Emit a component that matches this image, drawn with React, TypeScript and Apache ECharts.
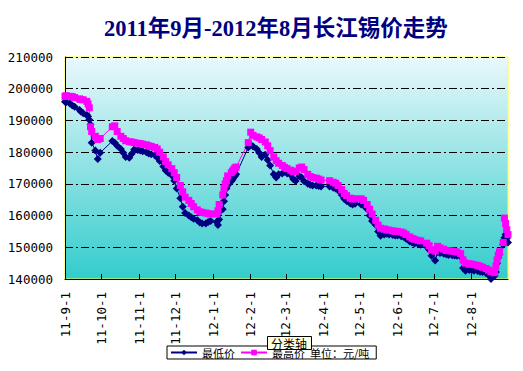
import React, { useEffect, useRef } from "react";
import * as echarts from "echarts";

const titleText = "2011年9月-2012年8月长江锡价走势";
const Y_MIN = 140000;
const Y_MAX = 210000;
const Y_STEP = 10000;
const lowName = "最低价";
const highName = "最高价";
const unitText = "单位：元/吨";
const axisTipText = "分类轴";

// trading dates (yy-m-d)
const tradeDates = [
  "11-9-1", "11-9-2", "11-9-5", "11-9-7", "11-9-9", "11-9-13", "11-9-14", "11-9-16", "11-9-19", "11-9-20", "11-9-21", "11-9-22", "11-9-23", "11-9-26", "11-9-28", "11-9-30",
  "11-10-10", "11-10-12", "11-10-14", "11-10-17", "11-10-19", "11-10-21", "11-10-24", "11-10-26", "11-10-28", "11-10-31",
  "11-11-2", "11-11-4", "11-11-7", "11-11-9", "11-11-11", "11-11-14", "11-11-16", "11-11-18", "11-11-21", "11-11-23", "11-11-25", "11-11-28", "11-11-30",
  "11-12-2", "11-12-5", "11-12-7", "11-12-9", "11-12-12", "11-12-14", "11-12-16", "11-12-19", "11-12-21", "11-12-23", "11-12-26", "11-12-28", "11-12-30",
  "12-1-4", "12-1-5", "12-1-6", "12-1-9", "12-1-10", "12-1-11", "12-1-12", "12-1-13", "12-1-16", "12-1-17", "12-1-18", "12-1-19", "12-1-20", "12-1-30",
  "12-2-1", "12-2-3", "12-2-6", "12-2-8", "12-2-10", "12-2-13", "12-2-15", "12-2-17", "12-2-20", "12-2-22", "12-2-24", "12-2-27", "12-2-29",
  "12-3-2", "12-3-5", "12-3-7", "12-3-9", "12-3-12", "12-3-14", "12-3-16", "12-3-19", "12-3-21", "12-3-23", "12-3-26", "12-3-28", "12-3-30",
  "12-4-6", "12-4-9", "12-4-11", "12-4-13", "12-4-16", "12-4-18", "12-4-20", "12-4-23", "12-4-25", "12-4-27",
  "12-5-2", "12-5-4", "12-5-7", "12-5-9", "12-5-11", "12-5-14", "12-5-16", "12-5-18", "12-5-21", "12-5-23", "12-5-25", "12-5-28", "12-5-30",
  "12-6-1", "12-6-4", "12-6-6", "12-6-8", "12-6-11", "12-6-13", "12-6-15", "12-6-18", "12-6-20", "12-6-25", "12-6-27", "12-6-29",
  "12-7-2", "12-7-4", "12-7-6", "12-7-9", "12-7-11", "12-7-13", "12-7-16", "12-7-18", "12-7-20", "12-7-23", "12-7-25", "12-7-27", "12-7-30",
  "12-8-1", "12-8-3", "12-8-6", "12-8-8", "12-8-10", "12-8-13", "12-8-15", "12-8-17", "12-8-20", "12-8-21", "12-8-22", "12-8-23", "12-8-24", "12-8-27", "12-8-28", "12-8-29", "12-8-30", "12-8-31",
];

const highPrices = [
  197600, 197800, 197600, 197500, 197200, 196800, 196600, 196500, 196000, 195200, 194000, 188000, 186500, 185000, 184000, 184300,
  188000, 188300, 186500, 185000, 184300, 183600, 183300, 183200, 183000, 182800,
  182700, 182500, 182300, 182000, 181800, 181500, 181000, 180000, 178500, 177000, 176000, 174800, 173500,
  172000, 169500, 167500, 165800, 164800, 163800, 162800, 161800, 161200, 161000, 160800, 160600, 160500,
  160500, 161500, 163500, 166500, 168500, 170000, 171000, 172500, 173500, 174000, 174500, 175000, 175300, 183000,
  186300, 185300, 184800, 184500, 184000, 183200, 182000, 180500, 178500, 177300, 176500, 175800, 175200,
  174800, 174300, 173800, 174000, 175000, 175300, 174500, 173000, 172300, 172000, 171800, 171500, 171200,
  171000, 170500, 170200, 169500, 168200, 167000, 166300, 165500, 165200, 165300,
  165300, 164800, 163500, 162000, 160500, 158500, 157000, 156000, 155800, 155500, 155400, 155200, 155000,
  155000, 154800, 154500, 154000, 153300, 152800, 152500, 152200, 152000, 151300, 150500, 149200,
  148800, 150300, 149800, 149400, 149000, 148900, 148800, 148700, 148500, 148000, 146000, 145000, 144800,
  144700, 144500, 144300, 144000, 143700, 143300, 142800, 142300, 142000, 144000, 146000, 147500, 148600, 151500, 159200, 157500, 155500, 154000,
];

const lowPrices = [
  195900, 195700, 195300, 194700, 194300, 193300, 192800, 192300, 191700, 191200, 190200, 188700, 183000, 180500, 177800, 179800,
  183500, 183000, 182000, 181000, 179800, 178500, 178200, 179500, 180800, 180700,
  180500, 180300, 180000, 179600, 179300, 179000, 178300, 177200, 175500, 174200, 173500, 172600, 171000,
  168500, 165500, 162800, 160800, 160000, 159500, 159000, 158500, 157800, 157500, 157500, 158000, 158300,
  158000, 157000, 158800, 162000, 164500, 166500, 168500, 169500, 170800, 171300, 172000, 172500, 173000, 181500,
  182300, 181800, 181000, 179800, 178500, 179200, 177500, 175800, 173000, 172000, 173000, 173300, 173800,
  173300, 172800, 171500, 170900, 172400, 172000, 170800, 170000, 169700, 169500, 169500, 169300, 169200,
  169200, 168800, 168500, 168000, 166500, 165300, 164600, 163800, 163500, 163700,
  163500, 163200, 162000, 160000, 158300, 157000, 155000, 153600, 154000, 154300, 154000, 153900, 153700,
  153700, 153500, 153300, 152700, 151800, 151500, 151200, 151000, 150800, 150200, 149200, 147300,
  145800, 148500, 148200, 148000, 147800, 147600, 147500, 147400, 147300, 147000, 143500, 142600, 142800,
  142800, 142600, 142500, 142300, 142200, 141800, 141300, 140000, 141000, 142200, 145000, 146800, 147800, 150800, 153000, 154000, 152800, 151500,
];

function buildCalendar(): string[] {
  const out: string[] = [];
  const d = new Date(Date.UTC(2011, 8, 1));
  const end = Date.UTC(2012, 7, 31);
  while (d.getTime() <= end) {
    out.push(
      `${String(d.getUTCFullYear()).slice(2)}-${d.getUTCMonth() + 1}-${d.getUTCDate()}`
    );
    d.setUTCDate(d.getUTCDate() + 1);
  }
  return out;
}

function alignToCalendar(calendar: string[], dates: string[], values: number[]) {
  const map = new Map<string, number>();
  dates.forEach((dt, i) => map.set(dt, values[i]));
  return calendar.map((c) => (map.has(c) ? map.get(c)! : null));
}

const isMonthStart = (_i: number, value: string) => value.split("-")[2] === "1";

export default function App() {
  const ref = useRef<HTMLDivElement>(null);

  useEffect(() => {
    if (!ref.current) return;
    const chart = echarts.init(ref.current, null, { renderer: "svg" });
    const calendar = buildCalendar();
    const lowData = alignToCalendar(calendar, tradeDates, lowPrices);
    const highData = alignToCalendar(calendar, tradeDates, highPrices);
    const monoFont = "'DejaVu Sans Mono', monospace";

    chart.setOption({
      animation: false,
      backgroundColor: "#ffffff",
      title: {
        text: titleText,
        left: 99,
        top: 12,
        textStyle: {
          fontSize: 22.5,
          fontWeight: "bold",
          color: "#000080",
          fontFamily: "'Liberation Serif', 'Noto Sans CJK SC', serif",
        },
      },
      grid: {
        left: 65,
        right: 15,
        top: 57,
        bottom: 92,
        show: true,
        borderColor: "#ffff33",
        borderWidth: 1,
        backgroundColor: new echarts.graphic.LinearGradient(0, 0, 0, 1, [
          { offset: 0, color: "#eaf8fb" },
          { offset: 1, color: "#33cccc" },
        ]),
        outerBoundsMode: "none",
        containLabel: false,
      },
      legend: {
        data: [lowName, highName],
        left: 167,
        top: 346,
        orient: "horizontal",
        itemWidth: 26,
        itemHeight: 7,
        itemGap: 5,
        padding: [1, 7, 1, 3],
        borderColor: "#000",
        borderWidth: 1,
        backgroundColor: "#fff",
        formatter: (name: string) => (name === highName ? `${name}  ${unitText}` : name),
        textStyle: {
          fontSize: 11,
          color: "#000",
          fontFamily: "'Noto Sans CJK SC', sans-serif",
        },
      },
      xAxis: {
        type: "category",
        data: calendar,
        boundaryGap: false,
        axisLine: { show: true, lineStyle: { color: "#000", width: 1 } },
        axisTick: {
          show: true,
          inside: true,
          length: 5,
          interval: isMonthStart,
          lineStyle: { color: "#000" },
        },
        axisLabel: {
          interval: isMonthStart,
          rotate: 90,
          margin: 13,
          fontFamily: monoFont,
          fontSize: 12.5,
          color: "#000",
        },
        splitLine: { show: false },
      },
      yAxis: {
        type: "value",
        min: Y_MIN,
        max: Y_MAX,
        interval: Y_STEP,
        axisLine: { show: true, lineStyle: { color: "#000", width: 1 } },
        axisTick: { show: false },
        axisLabel: {
          margin: 12,
          fontFamily: monoFont,
          fontSize: 12.5,
          color: "#000",
          formatter: (v: number) => String(v),
        },
        splitLine: {
          show: true,
          lineStyle: { color: "#000", width: 1, type: [8, 3, 2, 3] },
        },
      },
      series: [
        {
          name: lowName,
          type: "line",
          data: lowData,
          connectNulls: true,
          showAllSymbol: true,
          symbol: "diamond",
          symbolSize: 8,
          itemStyle: { color: "#000080" },
          lineStyle: { color: "#000080", width: 1 },
          emphasis: { disabled: true },
        },
        {
          name: highName,
          type: "line",
          data: highData,
          connectNulls: true,
          showAllSymbol: true,
          symbol: "rect",
          symbolSize: 7,
          itemStyle: { color: "#ff00ff" },
          lineStyle: { color: "#ff00ff", width: 1 },
          emphasis: { disabled: true },
        },
      ],
      graphic: [
        {
          type: "group",
          x: 267,
          y: 336,
          z: 100,
          children: [
            {
              type: "rect",
              z: 100,
              shape: { x: 0.5, y: 0.5, width: 44, height: 13 },
              style: { fill: "#ffffe1", stroke: "#000", lineWidth: 1 },
            },
            {
              type: "text",
              z: 101,
              x: 4,
              y: 7,
              style: {
                text: axisTipText,
                font: "12px 'Noto Sans CJK SC'",
                fill: "#000",
                verticalAlign: "middle",
              },
            },
          ],
        },
      ],
    });

    return () => chart.dispose();
  }, []);

  return (
    <div
      ref={ref}
      style={{ position: "absolute", left: 0, top: 0, width: 523, height: 371 }}
    />
  );
}
